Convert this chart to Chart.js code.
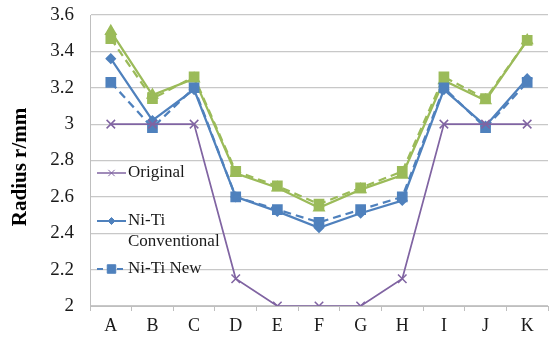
<!DOCTYPE html>
<html>
<head>
<meta charset="utf-8">
<script src="https://cdn.jsdelivr.net/npm/chart.js@4/dist/chart.umd.min.js"></script>
<style>
html,body{margin:0;padding:0;background:#fff;overflow:hidden;width:549px;height:339px;}
#wrap{position:relative;width:556px;height:339px;}
</style>
</head>
<body>
<div id="wrap"><canvas id="c" width="556" height="339"></canvas></div>
<script>
const categories = ['A','B','C','D','E','F','G','H','I','J','K'];
const original = [3, 3, 3, 2.15, 2, 2, 2, 2.15, 3, 3, 3];
const conventional = [3.36, 3.02, 3.19, 2.6, 2.52, 2.43, 2.51, 2.58, 3.19, 2.99, 3.25];
const niTiNew = [3.23, 2.98, 3.2, 2.6, 2.53, 2.46, 2.53, 2.6, 3.2, 2.98, 3.23];
const greenSolid = [3.51, 3.16, 3.25, 2.73, 2.65, 2.54, 2.64, 2.72, 3.24, 3.13, 3.46];
const greenDashed = [3.47, 3.14, 3.26, 2.74, 2.66, 2.56, 2.65, 2.74, 3.26, 3.14, 3.46];
const yTicks = [2, 2.2, 2.4, 2.6, 2.8, 3, 3.2, 3.4, 3.6];
const yTitle = 'Radius r/mm';
const legendNames = ['Original', 'Ni-Ti Conventional', 'Ni-Ti New'];

const PURPLE = '#8064A2', BLUE = '#4F81BD', GREEN = '#9BBB59';
const SERIF = '"Liberation Serif", "DejaVu Serif", serif';

const titlePlugin = {
  id: 'yTitleDraw',
  afterDraw(chart) {
    const ctx = chart.ctx;
    ctx.save();
    ctx.translate(21, 167);
    ctx.rotate(-Math.PI / 2);
    ctx.font = 'bold 21px ' + SERIF;
    ctx.fillStyle = '#000';
    ctx.textAlign = 'center';
    ctx.textBaseline = 'middle';
    ctx.fillText(yTitle, 0, 0);
    ctx.restore();
  }
};

const legendPlugin = {
  id: 'insideLegend',
  afterDatasetsDraw(chart) {
    const ctx = chart.ctx;
    const items = [
      {ds: 0, y: 173, r: 4.5, lw: 1.5},
      {ds: 1, y: 221, r: 3.5, lw: 2},
      {ds: 2, y: 269, r: 6, lw: 2}
    ];
    ctx.save();
    ctx.font = '17px ' + SERIF;
    ctx.textBaseline = 'middle';
    ctx.textAlign = 'left';
    items.forEach(it => {
      const ds = chart.data.datasets[it.ds];
      const x0 = 97, x1 = 126, xm = (x0 + x1) / 2, y = it.y;
      ctx.strokeStyle = ds.borderColor;
      ctx.lineWidth = it.lw;
      ctx.setLineDash(ds.borderDash && ds.borderDash.length ? [6, 4] : []);
      ctx.beginPath();
      ctx.moveTo(x0, y); ctx.lineTo(x1, y);
      ctx.stroke();
      ctx.setLineDash([]);
      ctx.fillStyle = ds.pointBackgroundColor;
      ctx.strokeStyle = ds.pointBorderColor;
      ctx.lineWidth = 1;
      Chart.helpers.drawPoint(ctx, {
        pointStyle: ds.pointStyle,
        radius: it.r,
        borderWidth: 1
      }, xm, y);
      const words = legendNames[it.ds].split(' ');
      const lines = [];
      let cur = '';
      words.forEach(w => {
        const t = cur ? cur + ' ' + w : w;
        if (ctx.measureText(t).width > 100 && cur) { lines.push(cur); cur = w; }
        else cur = t;
      });
      lines.push(cur);
      ctx.fillStyle = '#1a1a1a';
      lines.forEach((ln, i) => ctx.fillText(ln, 128, y + i * 21));
    });
    ctx.restore();
  }
};

const ds = (label, data, color, style, radius, dash, width) => ({
  label, data,
  borderColor: color,
  backgroundColor: color,
  pointBackgroundColor: color,
  pointBorderColor: color,
  pointStyle: style,
  pointRadius: radius,
  pointBorderWidth: 1.5,
  borderWidth: width,
  borderDash: dash,
  tension: 0,
  fill: false
});

new Chart(document.getElementById('c'), {
  type: 'line',
  data: {
    labels: categories,
    datasets: [
      ds(legendNames[0], original, PURPLE, 'crossRot', 6, [], 1.75),
      ds(legendNames[1], conventional, BLUE, 'rectRot', 4.5, [], 2.25),
      ds(legendNames[2], niTiNew, BLUE, 'rect', 6.5, [8, 5], 2.25),
      ds('Series 4', greenSolid, GREEN, 'triangle', 6, [], 2.25),
      ds('Series 5', greenDashed, GREEN, 'rect', 6.5, [8, 5], 2.25)
    ]
  },
  options: {
    responsive: false,
    animation: false,
    devicePixelRatio: 1,
    layout: {padding: {top: 15, right: 3, left: 0, bottom: 0}},
    plugins: {legend: {display: false}, tooltip: {enabled: false}},
    scales: {
      x: {
        offset: true,
        afterFit: s => { s.height = 33; s.paddingLeft = 0; s.paddingRight = 0; },
        grid: {offset: true, drawOnChartArea: false, tickLength: 5, color: '#bfbfbf'},
        border: {color: '#bfbfbf', width: 1},
        ticks: {font: {family: SERIF, size: 18}, color: '#1a1a1a', padding: 4, maxRotation: 0}
      },
      y: {
        min: 2, max: 3.6,
        afterBuildTicks: s => { s.ticks = yTicks.map(v => ({value: v})); },
        afterFit: s => { s.width = 90; s.paddingTop = 0; s.paddingBottom = 0; },
        grid: {color: '#c8c8c8', lineWidth: 1.2, tickLength: 0, drawTicks: false},
        border: {color: '#bfbfbf', width: 1},
        ticks: {
          font: {family: SERIF, size: 19}, color: '#1a1a1a', padding: 16,
          callback: v => String(Number(v.toFixed(1)))
        },
        title: {display: false}
      }
    }
  },
  plugins: [legendPlugin, titlePlugin]
});
</script>
</body>
</html>
